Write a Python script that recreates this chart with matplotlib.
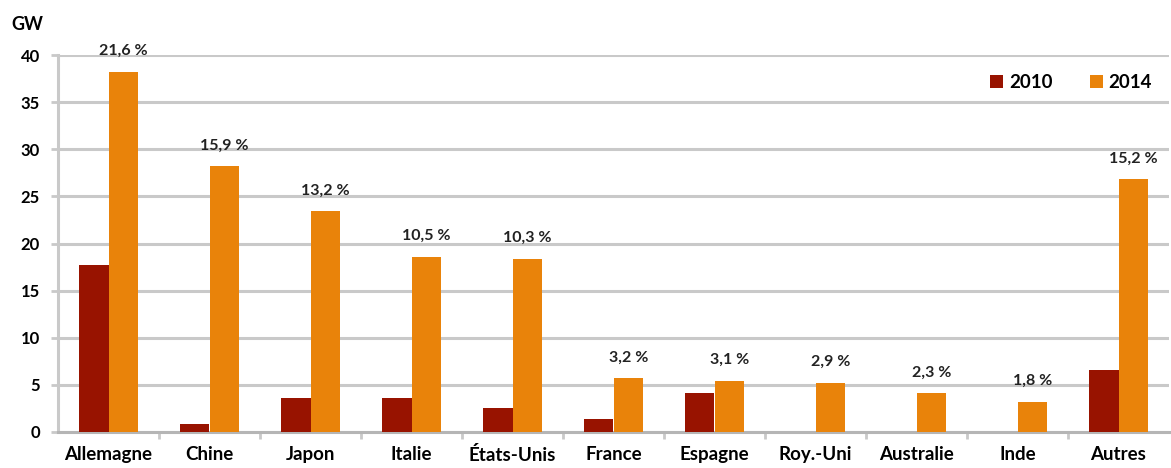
import matplotlib
matplotlib.use("Agg")
import matplotlib.pyplot as plt
import numpy as np

plt.rcParams["font.family"] = ["Lato", "DejaVu Sans"]
plt.rcParams["font.weight"] = "bold"

pays = ["Allemagne", "Chine", "Japon", "Italie", "États-Unis", "France",
        "Espagne", "Roy.-Uni", "Australie", "Inde", "Autres"]
gw_2010 = [17.7, 0.85, 3.6, 3.6, 2.5, 1.4, 4.1, 0.02, 0.02, 0.02, 6.6]
gw_2014 = [38.2, 28.2, 23.4, 18.6, 18.4, 5.7, 5.4, 5.2, 4.1, 3.2, 26.8]
parts_2014 = ["21,6 %", "15,9 %", "13,2 %", "10,5 %", "10,3 %", "3,2 %",
              "3,1 %", "2,9 %", "2,3 %", "1,8 %", "15,2 %"]

C2010 = "#981300"
C2014 = "#E9830A"
GRID = "#c9c9c9"

fig = plt.figure(figsize=(11.71, 4.68), dpi=100)
ax = fig.add_axes([58 / 1171, 1 - 432 / 468, 1111 / 1171, 377 / 468])

x = np.arange(len(pays))
w = 0.297
ax.bar(x - w / 2, gw_2010, w, color=C2010, label="2010", zorder=3)
b14 = ax.bar(x + w / 2, gw_2014, w, color=C2014, label="2014", zorder=3)

for rect, txt in zip(b14, parts_2014):
    ax.annotate(txt, (rect.get_x() + rect.get_width() / 2, rect.get_height()),
                xytext=(0, 10), textcoords="offset points",
                ha="center", va="bottom", fontsize=11.5, fontweight="bold", color="#222222")

ax.set_xlim(-0.5, len(pays) - 0.5)
ax.set_ylim(0, 40)
ax.set_yticks(range(0, 41, 5))
ax.yaxis.grid(True, color=GRID, linewidth=2.2, zorder=0)
ax.set_axisbelow(True)

# category labels centred, tick marks between categories
ax.set_xticks(x)
ax.set_xticklabels(pays)
ax.set_xticks(np.arange(0.5, len(pays) - 0.5), minor=True)
ax.tick_params(axis="x", which="major", length=0, pad=10, labelsize=13.5)
ax.tick_params(axis="x", which="minor", length=5, width=2, color=GRID)
ax.tick_params(axis="y", length=5, width=2, color=GRID, pad=8, labelsize=12)

for side in ["top", "right"]:
    ax.spines[side].set_visible(False)
ax.spines["left"].set_color(GRID)
ax.spines["left"].set_linewidth(2.2)
ax.spines["bottom"].set_color("#b5b5b5")
ax.spines["bottom"].set_linewidth(2.2)

fig.text(11 / 1171, 1 - 25 / 468, "GW", fontsize=13, fontweight="bold", va="center")

ax.legend(loc="upper right", bbox_to_anchor=(1.0, 0.995), ncol=2, frameon=False,
          fontsize=13.5, handlelength=0.7, handleheight=0.7, columnspacing=2.0,
          handletextpad=0.3)

fig.savefig("out.png", dpi=100)
